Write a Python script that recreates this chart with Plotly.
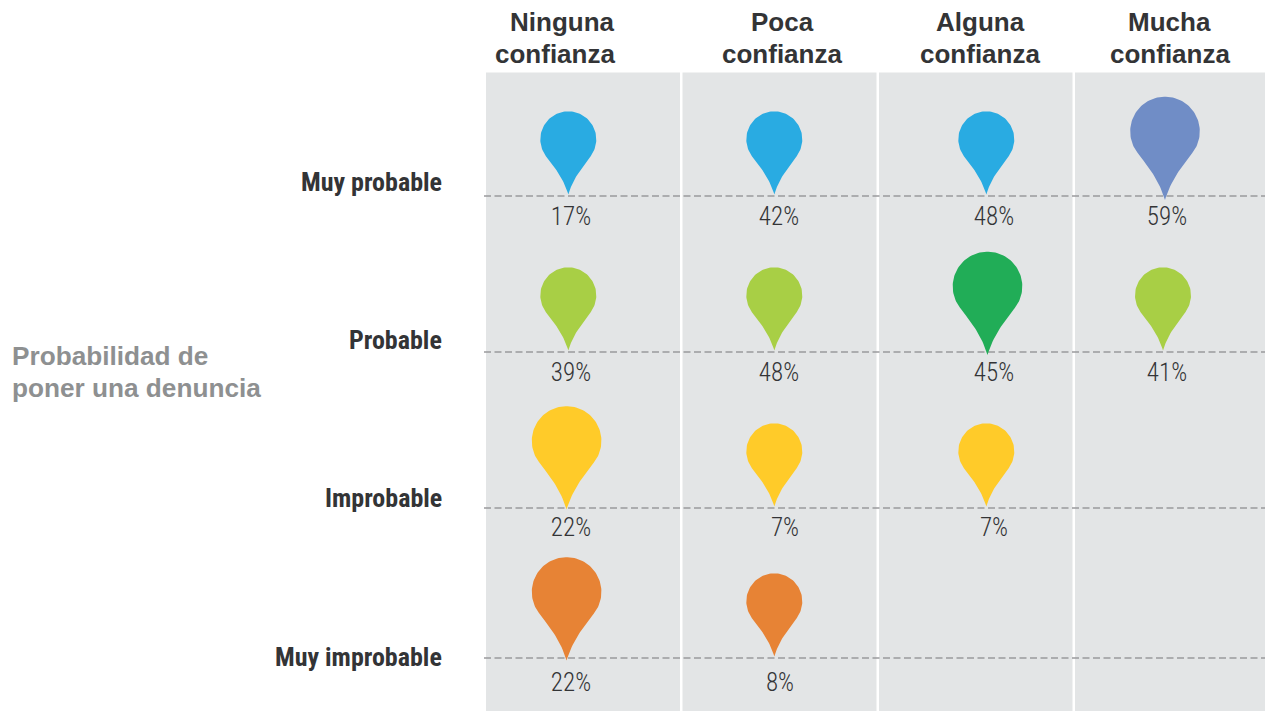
import numpy as np
import plotly.graph_objects as go

# ---- data ----
TRUST_LINE_1 = ["Ninguna", "Poca", "Alguna", "Mucha"]
TRUST_LINE_2 = ["confianza", "confianza", "confianza", "confianza"]
LIKELIHOOD = ["Muy probable", "Probable", "Improbable", "Muy improbable"]
SIDE_TITLE = ["Probabilidad de", "poner una denuncia"]

muy_probable = [17, 42, 48, 59]
probable = [39, 48, 45, 41]
improbable = [22, 7, 7, None]
muy_improbable = [22, 8, None, None]
VALUES = [muy_probable, probable, improbable, muy_improbable]

# which pins are drawn enlarged in the reference
big_muy_probable = [0, 0, 0, 1]
big_probable = [0, 0, 1, 0]
big_improbable = [1, 0, 0, 0]
big_muy_improbable = [1, 0, 0, 0]
BIG = [big_muy_probable, big_probable, big_improbable, big_muy_improbable]

# ---- layout constants (page pixels) ----
W, H = 1265, 711
PANELS = [(486, 680), (682.5, 876.5), (879, 1072.5), (1075, 1265)]
PANEL_TOP = 72.5
COL_PIN_X = [568.3, 774.3, 986.3, 1163]
BIG_DX = [-1.7, 0, 1.2, 2]
BIG_TIP_DY = [4, 3, 1.5, 2.5]
COL_LABEL_X = [555, 782, 980, 1169.5]
COL_LINE1_X = [562.5, 782, 980, 1169.5]
PCT_X = [[571, 779, 994, 1167], [571, 779, 994, 1167], [571, 785, 994, 0], [571, 780, 0, 0]]
ROW_LINE_Y = [196, 352, 508, 658]
ROW_LABEL_Y = [182.3, 340.3, 498.3, 657.3]
PCT_Y = [218.5, 374.5, 529.5, 684.5]
ROW_COLORS = ["#29ABE2", "#A8CF45", "#FFCB29", "#E78335"]
BIG_COLORS = ["#708DC6", "#21AD57", "#FFCB29", "#E78335"]
DARK = "#333436"
SANS = "Liberation Sans, Arial, sans-serif"
NARROW = "Roboto Condensed, DejaVu Sans Condensed, Liberation Sans, sans-serif"


def pin_outline(cx, tip_y, r):
    """Outline of a map pin whose point sits at (cx, tip_y), head radius r."""
    cy = tip_y - 1.97 * r
    P = np.array([[0.8, 0.6], [0.6, 0.87], [0.2, 1.3], [0.0, 1.97]])
    t = np.linspace(0, 1, 30)[:, None]
    right = (1 - t) ** 3 * P[0] + 3 * (1 - t) ** 2 * t * P[1] + 3 * (1 - t) * t ** 2 * P[2] + t ** 3 * P[3]
    ang = np.linspace(np.pi - np.arctan2(0.6, 0.8), 2 * np.pi + np.arctan2(0.6, 0.8), 90)
    # head arc in y-down coordinates, going left shoulder -> top -> right shoulder
    arc_x = np.cos(ang)
    arc_y = np.sin(ang)
    left = right[::-1].copy()
    left[:, 0] *= -1
    xs = np.concatenate([arc_x, right[:, 0], left[:, 0]])
    ys = np.concatenate([arc_y, right[:, 1], left[:, 1]])
    return cx + r * xs, cy + r * ys


fig = go.Figure()

# dashed reference lines
for y in ROW_LINE_Y:
    fig.add_trace(go.Scatter(x=[484, W], y=[y, y], mode="lines",
                             line=dict(color="#9A9B9D", width=1.6, dash="7px,3.5px"),
                             hoverinfo="skip", showlegend=False))

# pins
for r, row in enumerate(VALUES):
    for c, v in enumerate(row):
        if v is None:
            continue
        big = BIG[r][c]
        radius = 34.8 if big else 28
        tip = ROW_LINE_Y[r] + (BIG_TIP_DY[r] if big else -1.5)
        cx = COL_PIN_X[c] + (BIG_DX[c] if big else 0)
        xs, ys = pin_outline(cx, tip, radius)
        fig.add_trace(go.Scatter(x=xs, y=ys, mode="lines", fill="toself",
                                 fillcolor=BIG_COLORS[r] if big else ROW_COLORS[r],
                                 line=dict(width=0), name=f"{LIKELIHOOD[r]} {v}%",
                                 hoverinfo="name", showlegend=False))

# percentage labels
for r, row in enumerate(VALUES):
    idx = [c for c, v in enumerate(row) if v is not None]
    fig.add_trace(go.Scatter(x=[PCT_X[r][c] for c in idx], y=[PCT_Y[r]] * len(idx),
                             mode="text", text=[f"{row[c]}%" for c in idx],
                             textposition="middle center",
                             textfont=dict(family=NARROW, size=25, color=DARK, weight=300),
                             hoverinfo="skip", showlegend=False))

annotations = []
for x1, x2, t1, t2 in zip(COL_LINE1_X, COL_LABEL_X, TRUST_LINE_1, TRUST_LINE_2):
    annotations.append(dict(x=x1, y=22, text=f"<b>{t1}</b>", showarrow=False, xanchor="center",
                            yanchor="middle", font=dict(family=SANS, size=26, color=DARK)))
    annotations.append(dict(x=x2, y=54, text=f"<b>{t2}</b>", showarrow=False, xanchor="center",
                            yanchor="middle", font=dict(family=SANS, size=26, color=DARK)))
for y, t in zip(ROW_LABEL_Y, LIKELIHOOD):
    annotations.append(dict(x=444, y=y, text=f"<b>{t}</b>", showarrow=False, xanchor="right",
                            yanchor="middle", font=dict(family=NARROW, size=26, color=DARK)))
for y, t in zip([356, 388], SIDE_TITLE):
    annotations.append(dict(x=9.5, y=y, text=f"<b>{t}</b>", showarrow=False, xanchor="left",
                            yanchor="middle", align="left",
                            font=dict(family=SANS, size=26.2, color="#8E9091")))

shapes = [dict(type="rect", x0=a, x1=b, y0=PANEL_TOP, y1=H, xref="x", yref="y",
               fillcolor="#E3E5E6", line=dict(width=0), layer="below") for a, b in PANELS]

fig.update_layout(
    width=W, height=H, autosize=False,
    margin=dict(l=0, r=0, t=0, b=0),
    paper_bgcolor="white", plot_bgcolor="white",
    xaxis=dict(range=[0, W], visible=False, fixedrange=True),
    yaxis=dict(range=[H, 0], visible=False, fixedrange=True),
    shapes=shapes, annotations=annotations, showlegend=False,
)
fig.write_html("out.html", config={"displayModeBar": False},
               post_script="document.body.style.margin='0';document.body.style.overflow='hidden';")
